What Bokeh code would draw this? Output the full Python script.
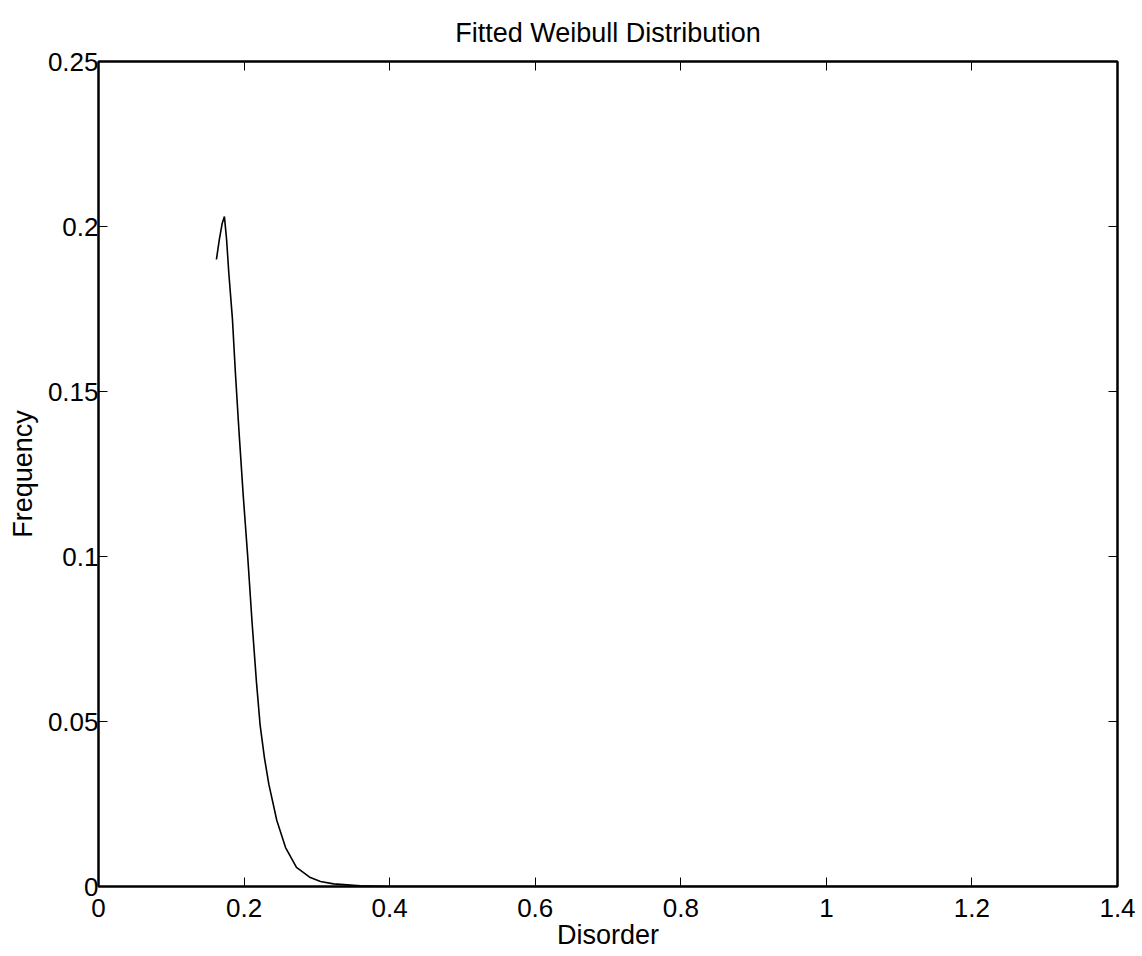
from bokeh.plotting import figure
from bokeh.models import Range1d, LinearAxis, FixedTicker
from bokeh.embed import file_html
from bokeh.resources import INLINE

# ---- data ----
disorder = [0.162, 0.166, 0.170, 0.173, 0.176, 0.179, 0.184, 0.188, 0.193, 0.199,
            0.205, 0.211, 0.217, 0.222, 0.228, 0.234, 0.245, 0.257, 0.272, 0.291,
            0.305, 0.323, 0.36, 0.40, 0.60, 1.40]
frequency = [0.190, 0.196, 0.201, 0.203, 0.196, 0.186, 0.172, 0.156, 0.138, 0.118,
             0.100, 0.080, 0.062, 0.049, 0.039, 0.031, 0.020, 0.0118, 0.0058, 0.0027,
             0.0015, 0.0008, 0.0002, 0.0, 0.0, 0.0]

x_ticks = [0, 0.2, 0.4, 0.6, 0.8, 1.0, 1.2, 1.4]
x_tick_labels = ["0", "0.2", "0.4", "0.6", "0.8", "1", "1.2", "1.4"]
y_ticks = [0, 0.05, 0.10, 0.15, 0.20, 0.25]
y_tick_labels = ["0", "0.05", "0.1", "0.15", "0.2", "0.25"]

title_text = "Fitted Weibull Distribution"
x_label = "Disorder"
y_label = "Frequency"

FONT = "Liberation Sans"

p = figure(width=1140, height=954, output_backend="svg", toolbar_location=None,
           x_range=Range1d(0, 1.4), y_range=Range1d(0, 0.25),
           min_border_left=98, min_border_right=23, min_border_top=61, min_border_bottom=68,
           title=title_text)
p.title.align = "center"
p.title.text_font = FONT
p.title.text_font_size = "27px"
p.title.text_font_style = "normal"
p.title.text_color = "black"
p.title.standoff = 27

p.grid.visible = False
p.outline_line_color = "black"
p.outline_line_width = 2
p.background_fill_color = "white"
p.border_fill_color = "white"

def style_axis(ax, ticks, labels):
    ax.ticker = FixedTicker(ticks=ticks)
    ax.major_label_overrides = {t: l for t, l in zip(ticks, labels)}
    ax.major_tick_in = 9
    ax.major_tick_out = 0
    ax.minor_tick_line_color = None
    ax.axis_line_color = "black"
    ax.axis_line_width = 2
    ax.major_tick_line_color = "black"
    ax.major_tick_line_width = 1
    ax.major_label_text_font = FONT
    ax.major_label_text_color = "black"
    ax.major_label_text_font_size = "26px"

xa = p.xaxis[0]
style_axis(xa, x_ticks, x_tick_labels)
xa.major_label_standoff = 12
xa.axis_label = x_label
xa.axis_label_text_font = FONT
xa.axis_label_text_font_size = "27px"
xa.axis_label_text_font_style = "normal"
xa.axis_label_text_color = "black"
xa.axis_label_standoff = 0

ya = p.yaxis[0]
style_axis(ya, y_ticks, y_tick_labels)
ya.major_label_standoff = 0
ya.axis_label = y_label
ya.axis_label_text_font = FONT
ya.axis_label_text_font_size = "27px"
ya.axis_label_text_font_style = "normal"
ya.axis_label_text_color = "black"
ya.axis_label_standoff = 7

# inward ticks on the top and right sides (no labels)
top = LinearAxis()
style_axis(top, x_ticks, [""] * len(x_ticks))
top.major_label_text_font_size = "8px"
top.major_label_standoff = 0
p.add_layout(top, "above")
right = LinearAxis()
style_axis(right, y_ticks, [""] * len(y_ticks))
right.major_label_text_font_size = "8px"
right.major_label_standoff = 0
p.add_layout(right, "right")

p.line(disorder, frequency, line_color="black", line_width=1.6)

open("out.html", "w").write(file_html(p, INLINE))
